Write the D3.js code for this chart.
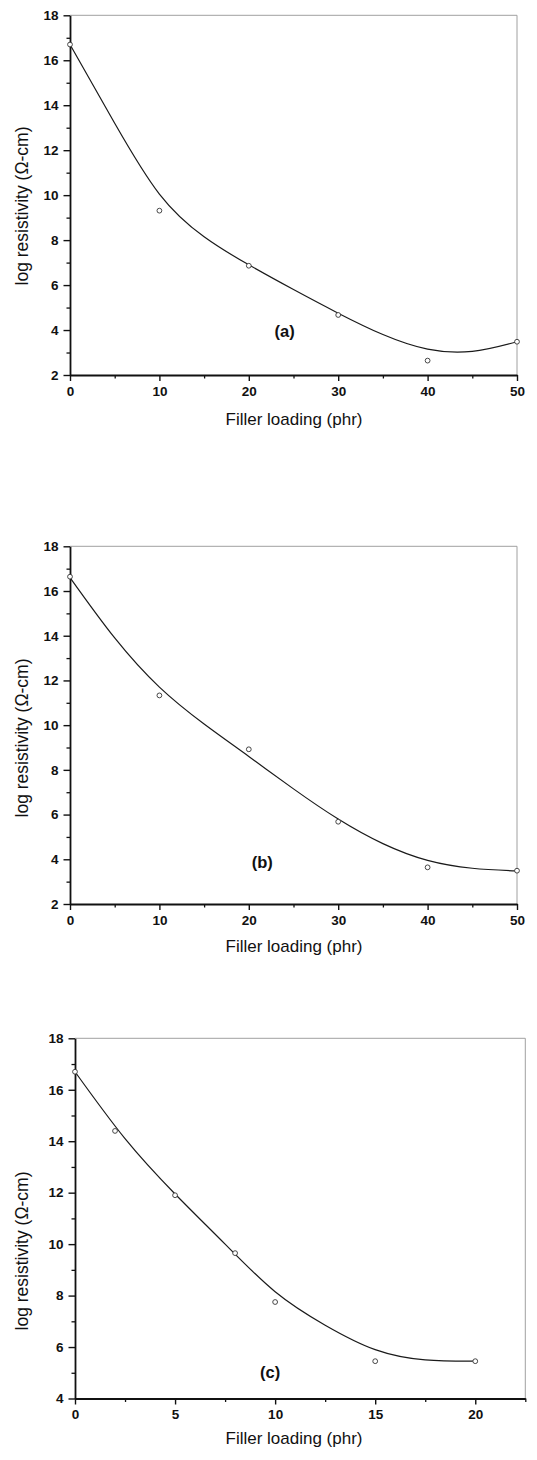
<!DOCTYPE html>
<html>
<head>
<meta charset="utf-8">
<script src="https://cdn.jsdelivr.net/npm/d3@7"></script>
<style>
  body { margin: 0; background: #fff; }
  svg { display: block; font-family: "Liberation Sans", Arial, sans-serif; }
</style>
</head>
<body>
<script>
// measured points (filler loading, log resistivity)
const loadingA = [0, 10, 20, 30, 40, 50]
const resistA = [16.7, 9.31, 6.86, 4.67, 2.64, 3.48]
const loadingB = [0, 10, 20, 30, 40, 50]
const resistB = [16.64, 11.33, 8.92, 5.68, 3.64, 3.49]
const loadingC = [0, 2, 5, 8, 10, 15, 20]
const resistC = [16.7, 14.4, 11.9, 9.65, 7.75, 5.45, 5.45]

// fitted curves
const fitXA = [0, 5, 10, 15, 20, 25, 30, 35, 40, 45, 50]
const fitYA = [16.7, 13.2, 10.05, 8.15, 6.9, 5.8, 4.75, 3.8, 3.15, 3.05, 3.48]
const fitXB = [0, 5, 10, 15, 20, 25, 30, 35, 40, 45, 50]
const fitYB = [16.6, 13.9, 11.7, 10.05, 8.6, 7.15, 5.8, 4.7, 3.95, 3.6, 3.48]
const fitXC = [0, 2.5, 5, 7.5, 10, 12.5, 15, 17.5, 20]
const fitYC = [16.7, 14.1, 11.95, 10.0, 8.15, 6.85, 5.9, 5.5, 5.45]

// ticks
const xTicksAB = [0, 10, 20, 30, 40, 50]
const xMinorAB = [5, 15, 25, 35, 45]
const yTicksAB = [2, 4, 6, 8, 10, 12, 14, 16, 18]
const yMinorAB = [3, 5, 7, 9, 11, 13, 15, 17]
const xTicksC = [0, 5, 10, 15, 20]
const xMinorC = [2.5, 7.5, 12.5, 17.5, 22.5]
const yTicksC = [4, 6, 8, 10, 12, 14, 16, 18]
const yMinorC = [5, 7, 9, 11, 13, 15, 17]

const panelTags = ["(a)", "(b)", "(c)"]
const xTitle = "Filler loading (phr)"
const yTitle = "log resistivity (Ω-cm)"

const svg = d3.select("body").append("svg")
  .attr("width", 537)
  .attr("height", 1460)

svg.append("rect").attr("width", 537).attr("height", 1460).attr("fill", "#fff")

const panels = [
  { tag: panelTags[0], px: loadingA, py: resistA, fx: fitXA, fy: fitYA,
    xDomain: [0, 50], yDomain: [2, 18], xTicks: xTicksAB, xMinor: xMinorAB, yTicks: yTicksAB, yMinor: yMinorAB,
    left: 70, right: 517, top: 15.3, bottom: 375, tagAt: [24, 3.7], xTitleY: 425, yTitleY: 206 },
  { tag: panelTags[1], px: loadingB, py: resistB, fx: fitXB, fy: fitYB,
    xDomain: [0, 50], yDomain: [2, 18], xTicks: xTicksAB, xMinor: xMinorAB, yTicks: yTicksAB, yMinor: yMinorAB,
    left: 70, right: 517, top: 546.3, bottom: 904, tagAt: [21.5, 3.6], xTitleY: 952, yTitleY: 738 },
  { tag: panelTags[2], px: loadingC, py: resistC, fx: fitXC, fy: fitYC,
    xDomain: [0, 22.5], yDomain: [4, 18], xTicks: xTicksC, xMinor: xMinorC, yTicks: yTicksC, yMinor: yMinorC,
    left: 75, right: 525.3, top: 1038.3, bottom: 1398.5, tagAt: [9.75, 4.78], xTitleY: 1444, yTitleY: 1251 }
]

panels.forEach(drawPanel)

function styleAxis(a, w) {
  a.attr("font-family", null).attr("font-size", null)
  a.select(".domain").attr("stroke", "#111").attr("stroke-width", w)
  a.selectAll(".tick line").attr("stroke", "#111").attr("stroke-width", 1.4)
  a.selectAll(".tick text")
    .attr("fill", "#111")
    .style("font-size", "13.5px")
    .style("font-weight", "bold")
}

function drawPanel(p) {
  const x = d3.scaleLinear().domain(p.xDomain).range([p.left, p.right])
  const y = d3.scaleLinear().domain(p.yDomain).range([p.bottom, p.top])
  const g = svg.append("g")

  // thin grey top / right frame (faint in the scan)
  g.append("path")
    .attr("d", `M${p.left},${p.top}H${p.right}V${p.bottom}`)
    .attr("fill", "none")
    .attr("stroke", "#a0a0a0")
    .attr("stroke-width", 1)

  // minor ticks
  g.append("g").attr("transform", `translate(0,${p.bottom})`)
    .call(d3.axisBottom(x).tickValues(p.xMinor).tickSize(3.5).tickFormat(""))
    .call(a => { a.select(".domain").remove(); a.selectAll("line").attr("stroke", "#111").attr("stroke-width", 1.3) })
  g.append("g").attr("transform", `translate(${p.left},0)`)
    .call(d3.axisLeft(y).tickValues(p.yMinor).tickSize(3.5).tickFormat(""))
    .call(a => { a.select(".domain").remove(); a.selectAll("line").attr("stroke", "#111").attr("stroke-width", 1.3) })

  // major axes
  g.append("g").attr("transform", `translate(0,${p.bottom})`)
    .call(d3.axisBottom(x).tickValues(p.xTicks).tickSize(6).tickSizeOuter(0).tickPadding(5))
    .call(a => styleAxis(a, 1.8))
  g.append("g").attr("transform", `translate(${p.left},0)`)
    .call(d3.axisLeft(y).tickValues(p.yTicks).tickSize(6.5).tickSizeOuter(0).tickPadding(5))
    .call(a => styleAxis(a, 1.8))

  // fitted curve
  const line = d3.line()
    .x((d, i) => x(p.fx[i]))
    .y(d => y(d))
    .curve(d3.curveNatural)
  g.append("path")
    .datum(p.fy)
    .attr("d", line)
    .attr("fill", "none")
    .attr("stroke", "#1a1a1a")
    .attr("stroke-width", 1.2)

  // open circle markers
  g.selectAll("circle")
    .data(p.py)
    .join("circle")
    .attr("cx", (d, i) => x(p.px[i]))
    .attr("cy", d => y(d))
    .attr("r", 2.4)
    .attr("fill", "#fff")
    .attr("stroke", "#333")
    .attr("stroke-width", 0.9)

  // panel tag
  g.append("text")
    .attr("x", x(p.tagAt[0]))
    .attr("y", y(p.tagAt[1]))
    .attr("text-anchor", "middle")
    .style("font-size", "16.5px")
    .style("font-weight", "bold")
    .attr("fill", "#111")
    .text(p.tag)

  // axis titles
  g.append("text")
    .attr("x", 294)
    .attr("y", p.xTitleY)
    .attr("text-anchor", "middle")
    .style("font-size", "17px")
    .attr("fill", "#111")
    .text(xTitle)
  g.append("text")
    .attr("transform", `translate(28,${p.yTitleY}) rotate(-90)`)
    .attr("text-anchor", "middle")
    .style("font-size", "17.5px")
    .attr("fill", "#111")
    .text(yTitle)
}
</script>
</body>
</html>
